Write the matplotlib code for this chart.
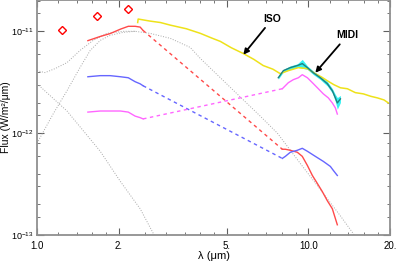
import numpy as np
import matplotlib
matplotlib.use("Agg")
import matplotlib.pyplot as plt
from matplotlib.ticker import FixedLocator, NullFormatter

# %% Style
AXIS_COLOR = "#909090"
RED = "#ff4a4a"
BLUE = "#6666ff"
MAGENTA = "#ff66ff"
YELLOW = "#eee21a"
TEAL = "#1f8080"
CYAN = "#33f2f2"
GRAY = "#a8a8a8"

plt.rcParams.update(
    {
        "font.family": ["Liberation Sans", "DejaVu Sans"],
        "mathtext.default": "regular",
        "font.size": 7,
        "axes.edgecolor": AXIS_COLOR,
        "axes.linewidth": 1.3,
        "xtick.direction": "in",
        "ytick.direction": "in",
        "xtick.top": True,
        "ytick.right": True,
        "xtick.color": "#606060",
        "ytick.color": "#606060",
        "xtick.labelcolor": "black",
        "ytick.labelcolor": "black",
    }
)

# %% Data
# photometry (J, H, K)
phot_wl = [1.24, 1.66, 2.17]
phot_flux = [1.02e-11, 1.41e-11, 1.65e-11]

# near-IR spectra
nir_wl = [1.54, 1.71, 1.86, 2.03, 2.17, 2.30, 2.40, 2.46]
nir_red = [8.1e-12, 8.9e-12, 9.5e-12, 1.05e-11, 1.12e-11, 1.12e-11, 1.10e-11, 1.02e-11]
nir_blue = [3.58e-12, 3.67e-12, 3.67e-12, 3.58e-12, 3.50e-12, 3.20e-12, 3.05e-12, 2.92e-12]
nir_magenta = [1.61e-12, 1.65e-12, 1.65e-12, 1.65e-12, 1.61e-12, 1.47e-12, 1.42e-12, 1.38e-12]

# MIDI correlated spectra
red_wl = [8.02, 8.23, 8.58, 9.11, 9.50, 9.92, 10.35, 10.80, 11.26, 11.75, 12.26, 12.79]
red_flux = [6.95e-13, 6.95e-13, 6.79e-13, 6.49e-13, 5.92e-13, 4.82e-13,
            3.84e-13, 3.20e-13, 2.67e-13, 2.17e-13, 1.81e-13, 1.26e-13]
blue_wl = [8.02, 8.23, 8.58, 9.11, 9.50, 9.92, 10.61, 11.36, 12.06, 12.37, 12.79]
blue_flux = [5.65e-13, 5.92e-13, 6.49e-13, 6.79e-13, 7.10e-13, 6.64e-13,
             5.92e-13, 5.28e-13, 4.71e-13, 4.30e-13, 3.84e-13]
mag_wl = [8.02, 8.44, 8.80, 9.19, 9.50, 9.92, 10.35, 10.80, 11.36, 11.85, 12.26, 12.58, 12.79]
mag_flux = [2.73e-12, 3.13e-12, 3.35e-12, 3.50e-12, 3.75e-12, 3.50e-12, 3.13e-12,
            2.79e-12, 2.43e-12, 2.22e-12, 1.98e-12, 1.77e-12, 1.54e-12]

# MIDI total spectrum and error
midi_wl = [7.75, 8.09, 8.58, 9.11, 9.50, 9.92, 10.43, 11.07, 11.75, 12.26, 12.58, 12.79, 13.13]
midi_flux = [3.50e-12, 4.11e-12, 4.40e-12, 4.61e-12, 4.82e-12, 4.40e-12, 3.92e-12,
             3.50e-12, 3.06e-12, 2.61e-12, 2.22e-12, 1.98e-12, 2.17e-12]
midi_err = [0.03, 0.03, 0.04, 0.04, 0.10, 0.04, 0.04, 0.04, 0.05, 0.05, 0.08, 0.13, 0.08]

# ISO spectrum
iso_wl = [2.35, 2.36, 2.61, 2.85, 3.10, 3.55, 4.00, 4.40, 4.74, 5.20, 5.76, 6.30, 6.82,
          7.40, 7.88, 8.44, 9.19, 9.92, 10.61, 11.20, 11.75, 12.40, 13.13, 13.93,
          14.90, 15.96, 17.00, 17.97, 19.00, 19.73]
iso_flux = [1.22e-11, 1.32e-11, 1.26e-11, 1.22e-11, 1.15e-11, 1.06e-11, 9.55e-12, 8.6e-12,
            7.96e-12, 6.9e-12, 6.05e-12, 5.3e-12, 4.61e-12, 4.25e-12, 3.84e-12, 4.11e-12,
            4.40e-12, 4.30e-12, 3.84e-12, 3.55e-12, 3.27e-12, 3.0e-12, 2.79e-12, 2.73e-12,
            2.50e-12, 2.43e-12, 2.30e-12, 2.22e-12, 2.12e-12, 1.98e-12]

# model curves
model_wl = [1.0, 1.07, 1.165, 1.29, 1.44, 1.61, 1.81, 2.08, 2.30, 2.61, 3.10, 3.67,
            4.00, 4.74, 5.61, 6.65, 7.69, 9.34, 10.80, 13.13, 15.2]
model_flux = [4.11e-12, 3.93e-12, 4.30e-12, 4.93e-12, 6.48e-12, 8.14e-12, 9.55e-12,
              1.0e-11, 1.0e-11, 9.55e-12, 8.53e-12, 6.95e-12, 5.41e-12, 3.50e-12,
              2.27e-12, 1.47e-12, 1.0e-12, 5.04e-13, 3.05e-13, 1.54e-13, 9.0e-14]
dust_wl = [1.0, 1.146, 1.29, 1.44, 1.57, 1.71, 1.86, 2.08, 2.30]
dust_flux = [7.96e-13, 1.54e-12, 2.61e-12, 4.40e-12, 6.48e-12, 8.14e-12, 9.13e-12, 9.77e-12, 1.0e-11]
star_wl = [1.0, 1.29, 1.71, 2.03, 2.40, 2.73, 2.80]
star_flux = [3.06e-12, 1.65e-12, 6.64e-13, 3.35e-13, 1.81e-13, 9.5e-14, 8.5e-14]

xtick_vals = [1.0, 2.0, 5.0, 10.0, 20.0]
xtick_labels = ["1.0", "2.", "5.", "10.0", "20."]
ytick_vals = [1e-13, 1e-12, 1e-11]
ytick_labels = ["10$^{-13}$", "10$^{-12}$", "10$^{-11}$"]

# %% Plot
fig = plt.figure(figsize=(3.99, 2.64), dpi=100)
ax = fig.add_axes([37 / 399, 29 / 264, 353 / 399, 235 / 264])
ax.set_xscale("log")
ax.set_yscale("log")

dot = (0, (1, 1.6))
ax.plot(model_wl, model_flux, color=GRAY, lw=0.7, ls=dot)
ax.plot(dust_wl, dust_flux, color=GRAY, lw=0.7, ls=dot)
ax.plot(star_wl, star_flux, color=GRAY, lw=0.7, ls=dot)

ax.plot(iso_wl, iso_flux, color=YELLOW, lw=1.1)

dash = (0, (2.5, 2.5))
for nir, mwl, mfl, c in [
    (nir_red, red_wl, red_flux, RED),
    (nir_blue, blue_wl, blue_flux, BLUE),
    (nir_magenta, mag_wl, mag_flux, MAGENTA),
]:
    ax.plot(nir_wl, nir, color=c, lw=1.0)
    ax.plot([nir_wl[-1], mwl[0]], [nir[-1], mfl[0]], color=c, lw=1.0, ls=dash)
    ax.plot(mwl, mfl, color=c, lw=1.0)

mf = np.array(midi_flux)
me = np.array(midi_err)
ax.fill_between(midi_wl, mf * (1 - me), mf * (1 + me), color=CYAN, lw=0)
ax.plot(midi_wl, midi_flux, color=TEAL, lw=1.0)

ax.plot(phot_wl, phot_flux, ls="none", marker="D", ms=4, mfc="none", mec="red", mew=1.0)

arrow = dict(arrowstyle="-|>", color="black", lw=1.3, mutation_scale=8, shrinkA=1, shrinkB=0)
ax.annotate("ISO", xy=(5.76, 5.9e-12), xytext=(7.36, 1.32e-11), ha="center", va="center",
            fontsize=7.5, fontweight="bold", arrowprops=arrow)
ax.annotate("MIDI", xy=(10.61, 3.92e-12), xytext=(13.93, 9.1e-12), ha="center", va="center",
            fontsize=7.5, fontweight="bold", arrowprops=arrow)

ax.set_xlim(1.0, 20.0)
ax.set_ylim(1e-13, 2.03e-11)

ax.xaxis.set_major_locator(FixedLocator(xtick_vals))
ax.set_xticklabels(xtick_labels)
xminor = [1.2, 1.4, 1.6, 1.8, 2.5, 3, 3.5, 4, 4.5, 6, 7, 8, 9, 12, 14, 16, 18]
ax.xaxis.set_minor_locator(FixedLocator(xminor))
ax.xaxis.set_minor_formatter(NullFormatter())

ax.yaxis.set_major_locator(FixedLocator(ytick_vals))
ax.set_yticklabels(ytick_labels)
yminor = [m * d for d in [1e-13, 1e-12, 1e-11] for m in [1.5, 2, 3, 4, 6, 8]]
ax.yaxis.set_minor_locator(FixedLocator(yminor))
ax.yaxis.set_minor_formatter(NullFormatter())

ax.tick_params(which="major", length=5, width=0.8, pad=4, labelsize=7)
ax.tick_params(which="minor", length=2.5, width=0.6)
ax.tick_params(axis="y", which="major", pad=2.5, labelsize=6.5)

ax.set_xlabel("λ (μm)", fontsize=8)
ax.set_ylabel("Flux (W/m²/μm)", fontsize=7.5)
ax.xaxis.set_label_coords(0.5, -0.068)
ax.yaxis.set_label_coords(-0.074, 0.5)

fig.savefig("out.png", dpi=100)
